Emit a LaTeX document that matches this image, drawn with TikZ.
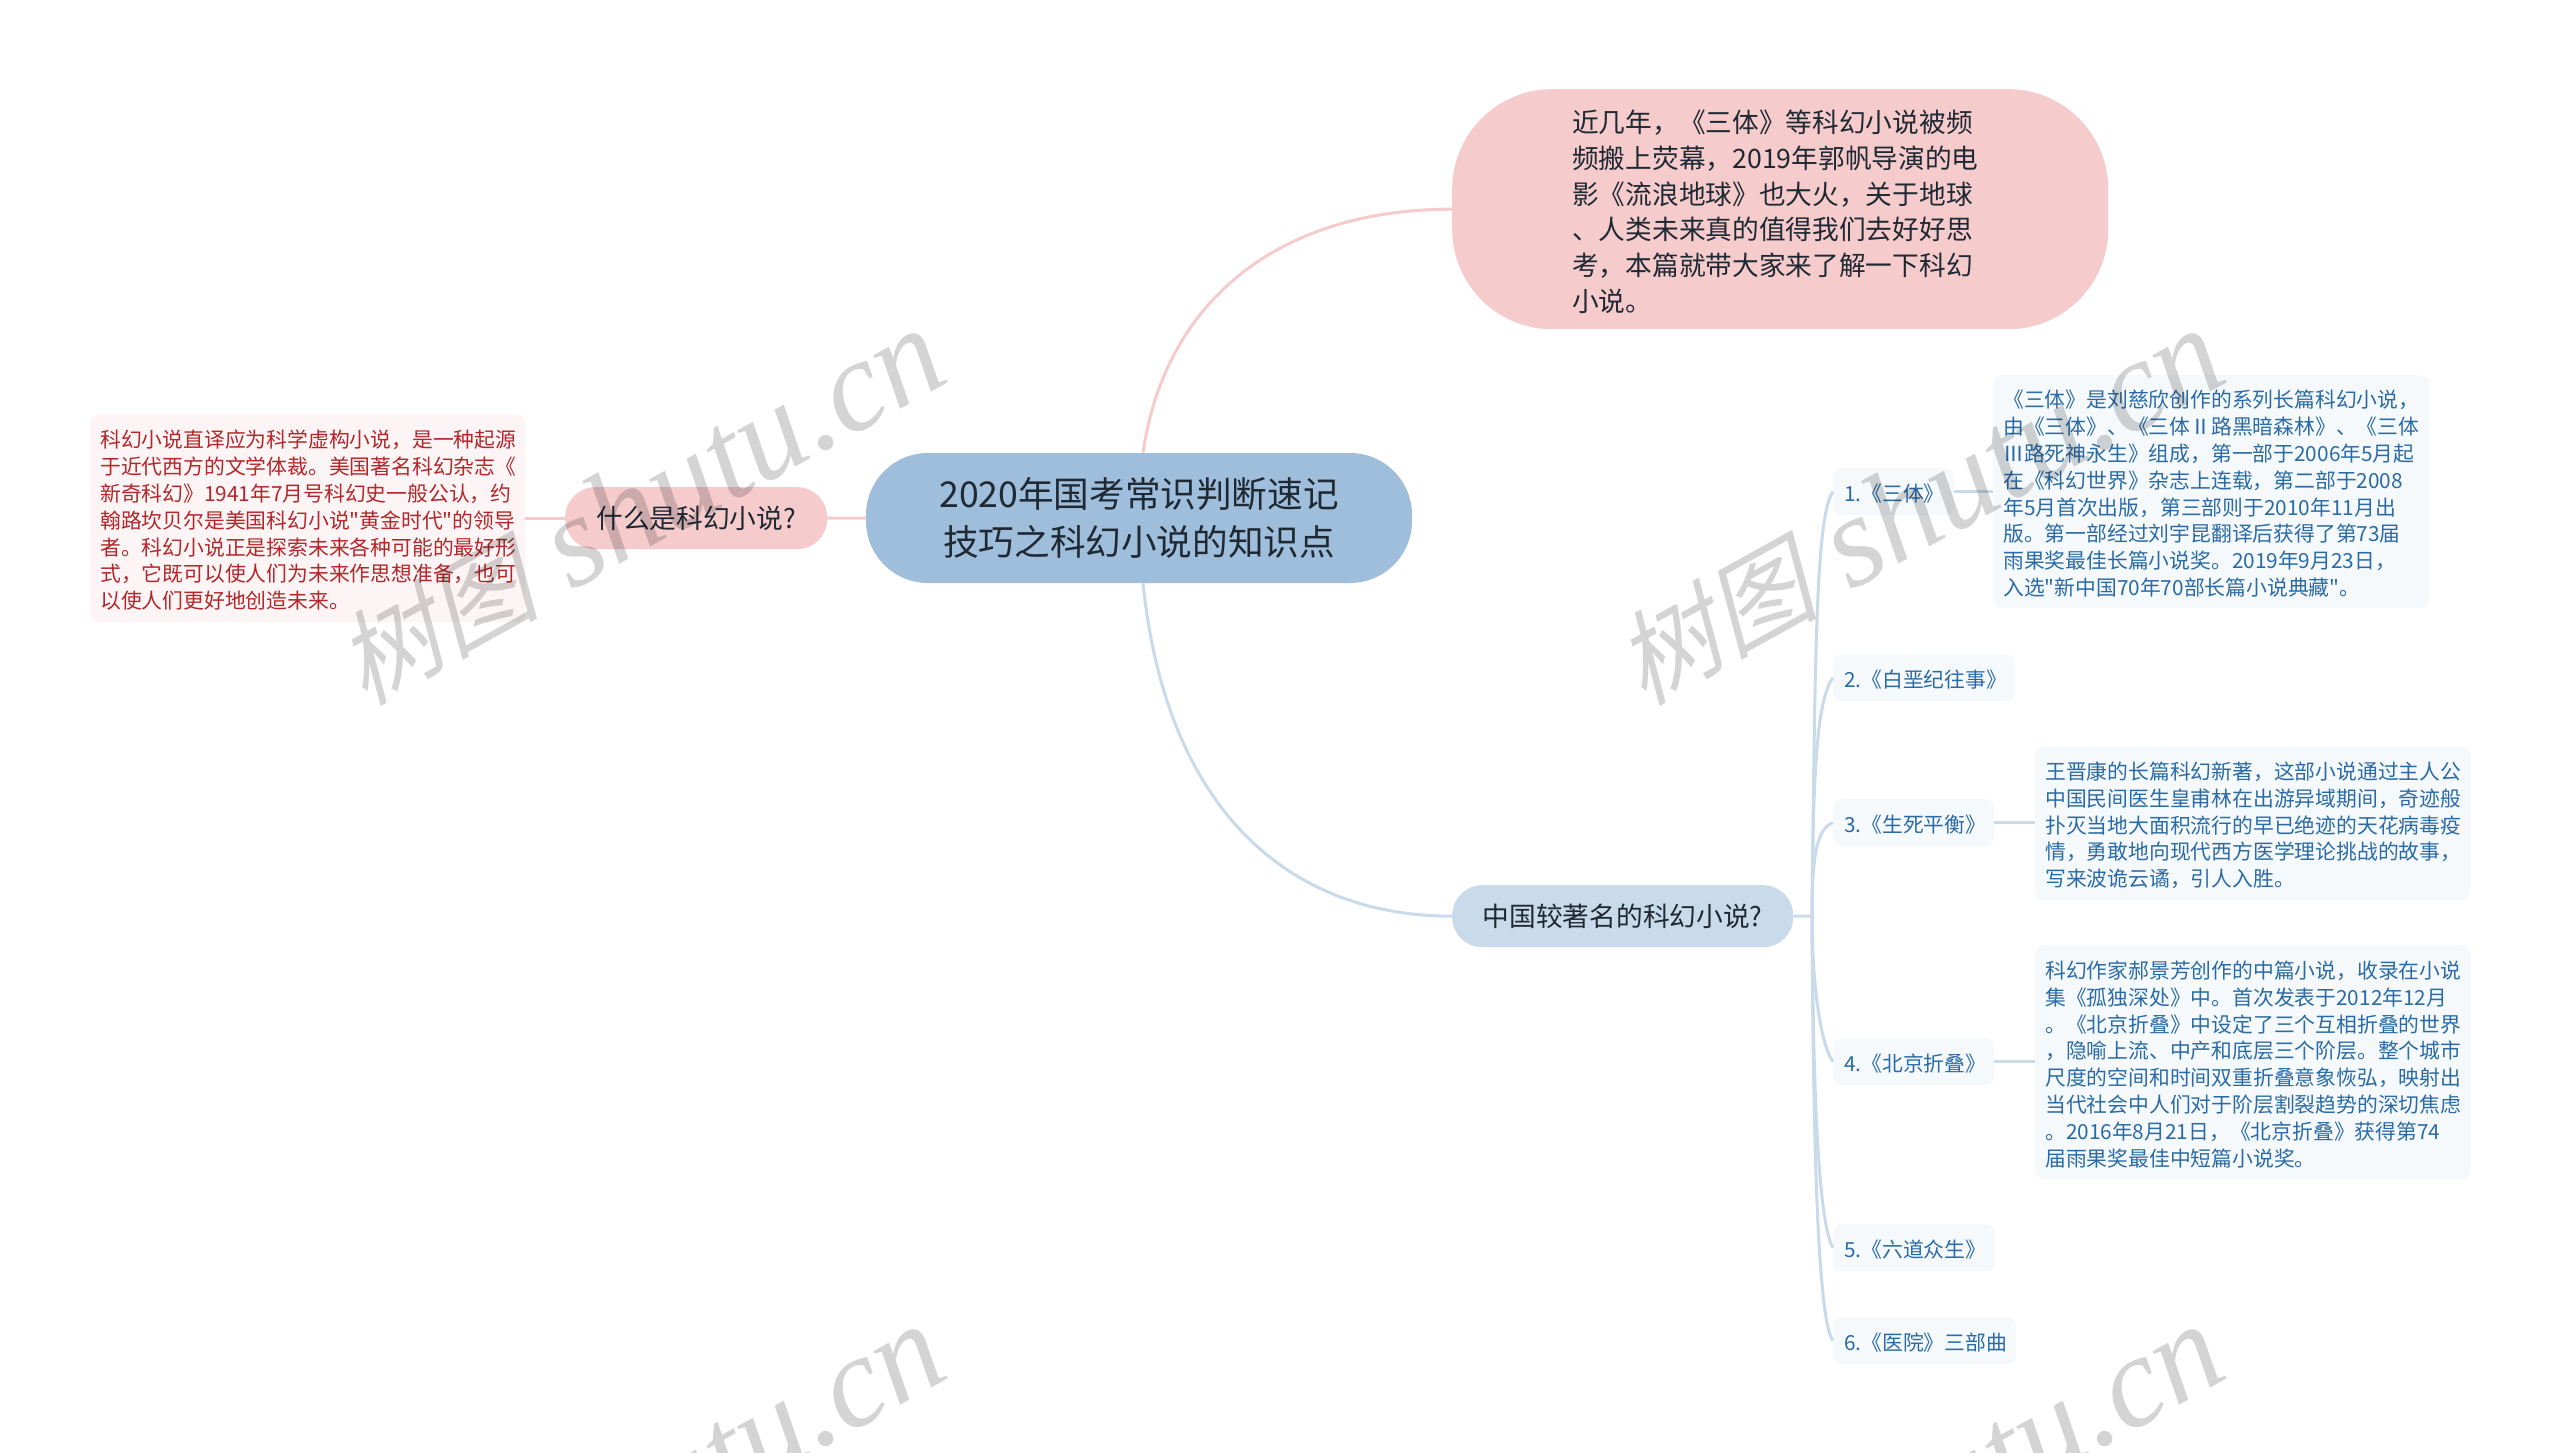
\documentclass[tikz,border=0pt]{standalone}
\usepackage{fontspec}
\newfontfamily\cjkmain{Noto Sans CJK SC}
\newfontfamily\wmcjk[FakeSlant=0.25]{Noto Sans CJK SC}
\newfontfamily\wmlat{Liberation Serif}
\usetikzlibrary{calc}
\definecolor{cblue}{HTML}{9FBEDB}
\definecolor{lblue}{HTML}{C9DAEB}
\definecolor{pinkc}{HTML}{F5CBCC}
\definecolor{pale}{HTML}{F5F9FC}
\definecolor{palep}{HTML}{FDF5F5}
\definecolor{tblue}{HTML}{2A6BA6}
\definecolor{tred}{HTML}{B3262A}
\definecolor{tdark}{HTML}{1F2933}
\tikzset{
  box/.style={anchor=north west,inner ysep=0pt,align=left},
  nudge/.style={execute at begin node={\rule{0pt}{1.05em}}},
  small/.style={font=\cjkmain\fontsize{20.8}{26.8}\selectfont},
  mid/.style={font=\cjkmain\fontsize{26.7}{35.7}\selectfont},
  rootbox/.style={anchor=center,fill=cblue,rounded corners=62pt,text=tdark,inner sep=0pt,align=center,font=\cjkmain\fontsize{35.6}{47.5}\selectfont},
  pinkbox/.style={box,mid,fill=pinkc,text=tdark},
  bluebox/.style={box,mid,fill=lblue,text=tdark},
  childbox/.style={box,small,nudge,fill=pale,text=tblue,rounded corners=9pt,inner xsep=11pt},
  detailblue/.style={box,small,nudge,fill=pale,text=tblue,rounded corners=9pt,inner xsep=10pt},
  detailred/.style={box,small,nudge,fill=palep,text=tred,rounded corners=9pt,inner xsep=10pt},
  pinkline/.style={draw=pinkc,line width=3pt},
  blueline/.style={draw=lblue,line width=3pt},
  wm/.style={rotate=29,anchor=center,text=black,text opacity=0.17,inner sep=0pt},
}
\newcommand{\wmtext}{{\wmcjk\fontsize{102}{110}\selectfont 树图}{\wmlat\fontsize{130}{140}\selectfont\itshape\ shutu.cn}}
\begin{document}
\begin{tikzpicture}[x=1pt,y=-1pt]
\useasboundingbox (0,0) rectangle (2560,1453);
\fill[white] (0,0) rectangle (2560,1453);

\node[rootbox,minimum width=546pt,minimum height=130pt] (root) at (1139,518) {2020年国考常识判断速记\\技巧之科幻小说的知识点};

\node[pinkbox,nudge,rounded corners=100pt,text width=416pt,inner xsep=120pt,minimum height=240pt] (intro) at (1452,89) {近几年，《三体》等科幻小说被频\\频搬上荧幕，2019年郭帆导演的电\\影《流浪地球》也大火，关于地球\\、人类未来真的值得我们去好好思\\考，本篇就带大家来了解一下科幻\\小说。};

\node[pinkbox,rounded corners=30pt,text width=228pt,inner xsep=17pt,minimum height=62pt,align=center] (q1) at (565,487) {什么是科幻小说?};

\node[detailred,text width=415pt,minimum height=208pt] (def) at (90,414) {科幻小说直译应为科学虚构小说，是一种起源\\于近代西方的文学体裁。美国著名科幻杂志《\\新奇科幻》1941年7月号科幻史一般公认，约\\翰路坎贝尔是美国科幻小说"黄金时代"的领导\\者。科幻小说正是探索未来各种可能的最好形\\式，它既可以使人们为未来作思想准备，也可\\以使人们更好地创造未来。};

\node[bluebox,rounded corners=30pt,text width=309pt,inner xsep=16pt,minimum height=62pt,align=center] (q2) at (1452,885) {中国较著名的科幻小说?};

\node[childbox,text width=99pt,minimum height=47pt] (c1) at (1833,468) {1.《三体》};
\node[childbox,text width=160pt,minimum height=47pt] (c2) at (1833,654) {2.《白垩纪往事》};
\node[childbox,text width=139pt,minimum height=47pt] (c3) at (1833,799) {3.《生死平衡》};
\node[childbox,text width=139pt,minimum height=47pt] (c4) at (1833,1038) {4.《北京折叠》};
\node[childbox,text width=140pt,minimum height=47pt] (c5) at (1833,1224) {5.《六道众生》};
\node[childbox,text width=161pt,minimum height=47pt] (c6) at (1833,1317) {6.《医院》三部曲};

\node[detailblue,text width=416pt,minimum height=233pt] (d1) at (1993,375) {《三体》是刘慈欣创作的系列长篇科幻小说，\\由《三体》、《三体Ⅱ路黑暗森林》、《三体\\Ⅲ路死神永生》组成，第一部于2006年5月起\\在《科幻世界》杂志上连载，第二部于2008\\年5月首次出版，第三部则于2010年11月出\\版。第一部经过刘宇昆翻译后获得了第73届\\雨果奖最佳长篇小说奖。2019年9月23日，\\入选"新中国70年70部长篇小说典藏"。};
\node[detailblue,text width=415pt,minimum height=154pt] (d3) at (2035,746) {王晋康的长篇科幻新著，这部小说通过主人公\\中国民间医生皇甫林在出游异域期间，奇迹般\\扑灭当地大面积流行的早已绝迹的天花病毒疫\\情，勇敢地向现代西方医学理论挑战的故事，\\写来波诡云谲，引人入胜。};
\node[detailblue,text width=415pt,minimum height=234pt] (d4) at (2035,945) {科幻作家郝景芳创作的中篇小说，收录在小说\\集《孤独深处》中。首次发表于2012年12月\\。《北京折叠》中设定了三个互相折叠的世界\\，隐喻上流、中产和底层三个阶层。整个城市\\尺度的空间和时间双重折叠意象恢弘，映射出\\当代社会中人们对于阶层割裂趋势的深切焦虑\\。2016年8月21日，《北京折叠》获得第74\\届雨果奖最佳中短篇小说奖。};

\coordinate (trunk) at (1812,916);

\draw[pinkline] ($(root.north)+(4,0)$) .. controls (1165,300) and (1280,209) .. (intro.west);
\draw[blueline] ($(root.south)+(4,0)$) .. controls (1165,800) and (1280,916) .. (q2.west);
\draw[pinkline] (root.west) -- (q1.east);
\draw[pinkline] (q1.west) -- (def.east);
\draw[blueline] (q2.east) -- (trunk);
\draw[blueline] (trunk) .. controls (1815,650) and (1816,515) .. (c1.west);
\draw[blueline] (trunk) .. controls (1813,780) and (1816,700) .. (c2.west);
\draw[blueline] (trunk) .. controls (1812,860) and (1816,828) .. (c3.west);
\draw[blueline] (trunk) .. controls (1812,970) and (1818,1040) .. (c4.west);
\draw[blueline] (trunk) .. controls (1813,1050) and (1816,1220) .. (c5.west);
\draw[blueline] (trunk) .. controls (1813,1100) and (1816,1320) .. (c6.west);
\draw[blueline] (c1.east) -- (d1.west |- c1.east);
\draw[blueline] (c3.east) -- (d3.west |- c3.east);
\draw[blueline] (c4.east) -- (d4.west |- c4.east);

\node[wm] (wm1) at (639,507) {\wmtext};
\node[wm] (wm2) at (1918,507) {\wmtext};
\node[wm] (wm3) at (639,1503) {\wmtext};
\node[wm] (wm4) at (1918,1503) {\wmtext};
\end{tikzpicture}
\end{document}
